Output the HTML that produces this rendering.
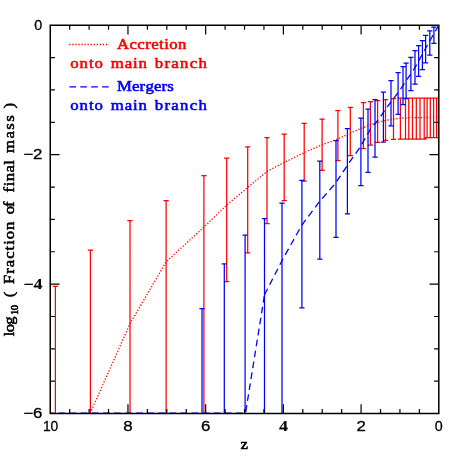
<!DOCTYPE html>
<html><head><meta charset="utf-8"><title>chart</title>
<style>html,body{margin:0;padding:0;background:#fff;overflow:hidden}svg{display:block;will-change:transform;-webkit-font-smoothing:antialiased}text{font-variant-ligatures:none;font-feature-settings:"liga" 0,"clig" 0;font-kerning:none}.sa{font-family:"Liberation Sans",sans-serif}.se{font-family:"Liberation Serif",serif}</style></head>
<body>
<svg width="463" height="463" viewBox="0 0 463 463">
<rect x="0" y="0" width="463" height="463" fill="#ffffff"/>
<clipPath id="c"><rect x="49.65" y="24.65" width="389.75" height="389.5"/></clipPath>
<g clip-path="url(#c)">
<path d="M55.4 286.3V413.6M52.8 286.3H58.0M90.4 250.0V413.6M87.8 250.0H93.0M130.0 220.7V413.6M127.4 220.7H132.6M166.1 200.6V413.6M163.5 200.6H168.7M203.9 175.7V413.6M201.3 175.7H206.5M226.7 158.1V281.6M224.1 158.1H229.3M224.1 281.6H229.3M247.7 146.9V252.8M245.1 146.9H250.3M245.1 252.8H250.3M267.0 137.6V223.6M264.4 137.6H269.6M264.4 223.6H269.6M284.2 134.2V200.6M281.6 134.2H286.8M281.6 200.6H286.8M304.2 123.3V181.2M301.6 123.3H306.8M301.6 181.2H306.8M322.1 119.1V170.4M319.5 119.1H324.7M319.5 170.4H324.7M337.9 110.6V160.5M335.3 110.6H340.5M335.3 160.5H340.5M350.3 107.4V155.6M347.7 107.4H352.9M347.7 155.6H352.9M363.4 102.6V148.5M360.8 102.6H366.0M360.8 148.5H366.0M370.4 101.5V145.1M367.8 101.5H373.0M367.8 145.1H373.0M377.6 100.6V142.3M375.0 100.6H380.2M375.0 142.3H380.2M385.5 99.5V140.4M382.9 99.5H388.1M382.9 140.4H388.1M393.5 98.6V139.4M390.9 98.6H396.1M390.9 139.4H396.1M400.4 98.0V139.0M397.8 98.0H403.0M397.8 139.0H403.0M405.5 98.0V139.0M402.9 98.0H408.1M402.9 139.0H408.1M408.8 98.0V139.0M406.2 98.0H411.4M406.2 139.0H411.4M412.5 98.0V139.0M409.9 98.0H415.1M409.9 139.0H415.1M416.3 98.0V139.0M413.7 98.0H418.9M413.7 139.0H418.9M420.0 98.0V139.0M417.4 98.0H422.6M417.4 139.0H422.6M424.2 98.0V139.0M421.6 98.0H426.8M421.6 139.0H426.8M427.1 98.0V137.6M424.5 98.0H429.7M424.5 137.6H429.7M430.3 98.0V137.6M427.7 98.0H432.9M427.7 137.6H432.9M433.6 98.0V137.6M431.0 98.0H436.2M431.0 137.6H436.2M436.6 98.0V137.6M434.0 98.0H439.2M434.0 137.6H439.2" stroke="#ff0000" stroke-width="1.25" fill="none"/>
<path d="M202.0 308.5V413.6M199.4 308.5H204.6M224.3 263.8V413.6M221.7 263.8H226.9M245.1 235.0V413.6M242.5 235.0H247.7M264.5 218.5V413.6M261.9 218.5H267.1M282.0 203.2V413.6M279.4 203.2H284.6M301.9 180.3V307.9M299.3 180.3H304.5M299.3 307.9H304.5M319.8 161.0V259.0M317.2 161.0H322.4M317.2 259.0H322.4M336.0 140.5V237.3M333.4 140.5H338.6M333.4 237.3H338.6M347.4 128.5V213.8M344.8 128.5H350.0M344.8 213.8H350.0M360.9 118.0V185.5M358.3 118.0H363.5M358.3 185.5H363.5M368.0 109.0V172.4M365.4 109.0H370.6M365.4 172.4H370.6M375.0 99.6V157.0M372.4 99.6H377.6M372.4 157.0H377.6M383.4 92.0V142.0M380.8 92.0H386.0M380.8 142.0H386.0M391.0 80.6V125.8M388.4 80.6H393.6M388.4 125.8H393.6M398.1 72.5V114.4M395.5 72.5H400.7M395.5 114.4H400.7M403.0 66.5V104.7M400.4 66.5H405.6M400.4 104.7H405.6M406.1 63.1V98.6M403.5 63.1H408.7M403.5 98.6H408.7M410.9 57.4V90.7M408.3 57.4H413.5M408.3 90.7H413.5M415.0 50.6V84.0M412.4 50.6H417.6M412.4 84.0H417.6M418.6 45.5V76.3M416.0 45.5H421.2M416.0 76.3H421.2M422.4 40.6V69.7M419.8 40.6H425.0M419.8 69.7H425.0M425.6 35.4V62.8M423.0 35.4H428.2M423.0 62.8H428.2M429.8 30.9V55.0M427.2 30.9H432.4M427.2 55.0H432.4M433.9 27.2V43.3M431.3 27.2H436.5M431.3 43.3H436.5" stroke="#0000ff" stroke-width="1.25" fill="none"/>
<polyline points="90.2,413.2 130.0,323.7 166.0,262.0 204.0,227.0 226.7,205.0 247.7,187.5 267.0,171.4 284.3,162.4 304.2,152.6 322.1,144.8 337.9,139.0 350.4,133.0 363.4,127.5 370.4,124.8 377.6,122.3 385.4,120.5 393.4,119.2 400.5,118.2 410.0,117.6 438.8,117.4" stroke="#ff0000" stroke-width="1.3" stroke-dasharray="1.3 1.75" fill="none"/>
</g>
<polyline points="50.2,413.2 245.5,413.2 264.5,294.8" stroke="#0000ff" stroke-width="1.3" stroke-dasharray="6.7 4.37" stroke-dashoffset="2.56" fill="none"/>
<polyline points="264.5,294.8 282.3,260.0 301.9,225.0 319.8,201.3 335.8,182.9 347.2,165.6 360.8,146.2 369.9,130.0 379.7,117.9 385.6,109.0 392.8,99.5 398.7,91.8 414.4,68.7 420.9,56.8 426.2,47.3 431.6,37.8 438.8,25.2" stroke="#0000ff" stroke-width="1.3" stroke-dasharray="6.8 4.45" stroke-dashoffset="0" fill="none"/>
<path d="M419.37 413.55v-4.6M419.37 25.25v4.6M399.94 413.55v-4.6M399.94 25.25v4.6M380.52 413.55v-4.6M380.52 25.25v4.6M361.09 413.55v-9.3M361.09 25.25v9.3M341.66 413.55v-4.6M341.66 25.25v4.6M322.24 413.55v-4.6M322.24 25.25v4.6M302.81 413.55v-4.6M302.81 25.25v4.6M283.38 413.55v-9.3M283.38 25.25v9.3M263.95 413.55v-4.6M263.95 25.25v4.6M244.53 413.55v-4.6M244.53 25.25v4.6M225.10 413.55v-4.6M225.10 25.25v4.6M205.67 413.55v-9.3M205.67 25.25v9.3M186.24 413.55v-4.6M186.24 25.25v4.6M166.81 413.55v-4.6M166.81 25.25v4.6M147.39 413.55v-4.6M147.39 25.25v4.6M127.96 413.55v-9.3M127.96 25.25v9.3M108.53 413.55v-4.6M108.53 25.25v4.6M89.10 413.55v-4.6M89.10 25.25v4.6M69.68 413.55v-4.6M69.68 25.25v4.6M50.25 57.61h4.6M438.8 57.61h-4.6M50.25 89.97h4.6M438.8 89.97h-4.6M50.25 122.33h4.6M438.8 122.33h-4.6M50.25 154.68h9.3M438.8 154.68h-9.3M50.25 187.04h4.6M438.8 187.04h-4.6M50.25 219.40h4.6M438.8 219.40h-4.6M50.25 251.76h4.6M438.8 251.76h-4.6M50.25 284.12h9.3M438.8 284.12h-9.3M50.25 316.48h4.6M438.8 316.48h-4.6M50.25 348.83h4.6M438.8 348.83h-4.6M50.25 381.19h4.6M438.8 381.19h-4.6" stroke="#000000" stroke-width="1.2" fill="none" stroke-linecap="butt"/>
<path d="M50.25 25.25H438.8V413.55H50.25Z" stroke="#000000" stroke-width="1.5" fill="none" stroke-linejoin="miter"/>
<text transform="translate(50.6 431.3) scale(0.97 1)" class="sa" font-size="14.3" font-weight="normal" text-anchor="middle" fill="#000000" stroke="#000000" stroke-width="0.3" stroke-linejoin="round" letter-spacing="0" word-spacing="0">10</text>
<text transform="translate(128.0 431.3) scale(1.18 1)" class="sa" font-size="14.3" font-weight="normal" text-anchor="middle" fill="#000000" stroke="#000000" stroke-width="0.3" stroke-linejoin="round" letter-spacing="0" word-spacing="0">8</text>
<text transform="translate(205.7 431.3) scale(1.18 1)" class="sa" font-size="14.3" font-weight="normal" text-anchor="middle" fill="#000000" stroke="#000000" stroke-width="0.3" stroke-linejoin="round" letter-spacing="0" word-spacing="0">6</text>
<text transform="translate(283.4 431.3) scale(1.18 1)" class="sa" font-size="14.3" font-weight="normal" text-anchor="middle" fill="#000000" stroke="#000000" stroke-width="0.3" stroke-linejoin="round" letter-spacing="0" word-spacing="0"><tspan class="se" font-weight="bold" font-size="15.2" stroke-width="0.1">4</tspan></text>
<text transform="translate(361.1 431.3) scale(1.18 1)" class="sa" font-size="14.3" font-weight="normal" text-anchor="middle" fill="#000000" stroke="#000000" stroke-width="0.3" stroke-linejoin="round" letter-spacing="0" word-spacing="0">2</text>
<text transform="translate(438.8 431.3)" class="sa" font-size="14.3" font-weight="normal" text-anchor="middle" fill="#000000" stroke="#000000" stroke-width="0.3" stroke-linejoin="round" letter-spacing="0" word-spacing="0">0</text>
<text transform="translate(42.2 29.6)" class="sa" font-size="14.3" font-weight="normal" text-anchor="end" fill="#000000" stroke="#000000" stroke-width="0.3" stroke-linejoin="round" letter-spacing="0" word-spacing="0">0</text>
<text transform="translate(42.4 159.1) scale(1.18 1)" class="sa" font-size="14.3" font-weight="normal" text-anchor="end" fill="#000000" stroke="#000000" stroke-width="0.3" stroke-linejoin="round" letter-spacing="0" word-spacing="0">−2</text>
<text transform="translate(42.4 288.5) scale(1.18 1)" class="sa" font-size="14.3" font-weight="normal" text-anchor="end" fill="#000000" stroke="#000000" stroke-width="0.3" stroke-linejoin="round" letter-spacing="0" word-spacing="0">−<tspan class="se" font-weight="bold" font-size="15.2" stroke-width="0.1">4</tspan></text>
<text transform="translate(42.4 417.9) scale(1.18 1)" class="sa" font-size="14.3" font-weight="normal" text-anchor="end" fill="#000000" stroke="#000000" stroke-width="0.3" stroke-linejoin="round" letter-spacing="0" word-spacing="0">−6</text>
<text transform="translate(240.6 448.8) scale(1.08 1)" class="se" font-size="15.5" fill="#000000" stroke="#000000" stroke-width="0.6" stroke-linejoin="round" textLength="7.41" lengthAdjust="spacing">z</text>
<text transform="translate(14.0 108.4) rotate(-90) scale(1.08 1)" class="se" font-size="15.5" fill="#000000" stroke="#000000" stroke-width="0.55" stroke-linejoin="round" textLength="5.19" lengthAdjust="spacing">)</text>
<text transform="translate(14.0 152.9) rotate(-90) scale(1.08 1)" class="se" font-size="15.5" fill="#000000" stroke="#000000" stroke-width="0.55" stroke-linejoin="round" textLength="34.81" lengthAdjust="spacing">mass</text>
<text transform="translate(14.0 192.5) rotate(-90) scale(1.08 1)" class="se" font-size="15.5" fill="#000000" stroke="#000000" stroke-width="0.55" stroke-linejoin="round" textLength="29.91" lengthAdjust="spacing">f&#8204;inal</text>
<text transform="translate(14.0 214.3) rotate(-90) scale(1.08 1)" class="se" font-size="15.5" fill="#000000" stroke="#000000" stroke-width="0.55" stroke-linejoin="round" textLength="12.04" lengthAdjust="spacing">of</text>
<text transform="translate(14.0 284.1) rotate(-90) scale(1.08 1)" class="se" font-size="15.5" fill="#000000" stroke="#000000" stroke-width="0.55" stroke-linejoin="round" textLength="57.96" lengthAdjust="spacing">Fraction</text>
<text transform="translate(14.0 297.3) rotate(-90) scale(1.08 1)" class="se" font-size="15.5" fill="#000000" stroke="#000000" stroke-width="0.55" stroke-linejoin="round" textLength="5.65" lengthAdjust="spacing">(</text>
<text transform="translate(14.0 336.2) rotate(-90) scale(1.08 1)" class="se" font-size="15.5" fill="#000000" stroke="#000000" stroke-width="0.55" stroke-linejoin="round" textLength="18.43" lengthAdjust="spacing">log</text>
<text transform="translate(18.2 314.9) rotate(-90) scale(1.08 1)" class="se" font-size="9.8" fill="#000000" stroke="#000000" stroke-width="0.55" stroke-linejoin="round" textLength="9.26" lengthAdjust="spacing">10</text>
<path d="M69.2 44.5H109.2" stroke="#ff0000" stroke-width="1.3" stroke-dasharray="1.3 1.75"/>
<path d="M69.4 86.9H108.8" stroke="#0000ff" stroke-width="1.3" stroke-dasharray="6.6 4.3"/>
<text transform="translate(116.9 48.9) scale(1.08 1)" class="se" font-size="15.5" fill="#ff0000" stroke="#ff0000" stroke-width="0.6" stroke-linejoin="round" textLength="64.44" lengthAdjust="spacing">Accretion</text>
<text transform="translate(116.9 91.2) scale(1.08 1)" class="se" font-size="15.5" fill="#0000ff" stroke="#0000ff" stroke-width="0.6" stroke-linejoin="round" textLength="52.78" lengthAdjust="spacing">Mergers</text>
<text transform="translate(70.2 68.3) scale(1.08 1)" class="se" font-size="15.5" fill="#ff0000" stroke="#ff0000" stroke-width="0.6" stroke-linejoin="round" textLength="30.37" lengthAdjust="spacing">onto</text>
<text transform="translate(110.8 68.3) scale(1.08 1)" class="se" font-size="15.5" fill="#ff0000" stroke="#ff0000" stroke-width="0.6" stroke-linejoin="round" textLength="33.33" lengthAdjust="spacing">main</text>
<text transform="translate(154.8 68.3) scale(1.08 1)" class="se" font-size="15.5" fill="#ff0000" stroke="#ff0000" stroke-width="0.6" stroke-linejoin="round" textLength="48.15" lengthAdjust="spacing">branch</text>
<text transform="translate(70.2 110.3) scale(1.08 1)" class="se" font-size="15.5" fill="#0000ff" stroke="#0000ff" stroke-width="0.6" stroke-linejoin="round" textLength="30.37" lengthAdjust="spacing">onto</text>
<text transform="translate(110.8 110.3) scale(1.08 1)" class="se" font-size="15.5" fill="#0000ff" stroke="#0000ff" stroke-width="0.6" stroke-linejoin="round" textLength="33.33" lengthAdjust="spacing">main</text>
<text transform="translate(154.8 110.3) scale(1.08 1)" class="se" font-size="15.5" fill="#0000ff" stroke="#0000ff" stroke-width="0.6" stroke-linejoin="round" textLength="48.15" lengthAdjust="spacing">branch</text>
</svg>
</body></html>
